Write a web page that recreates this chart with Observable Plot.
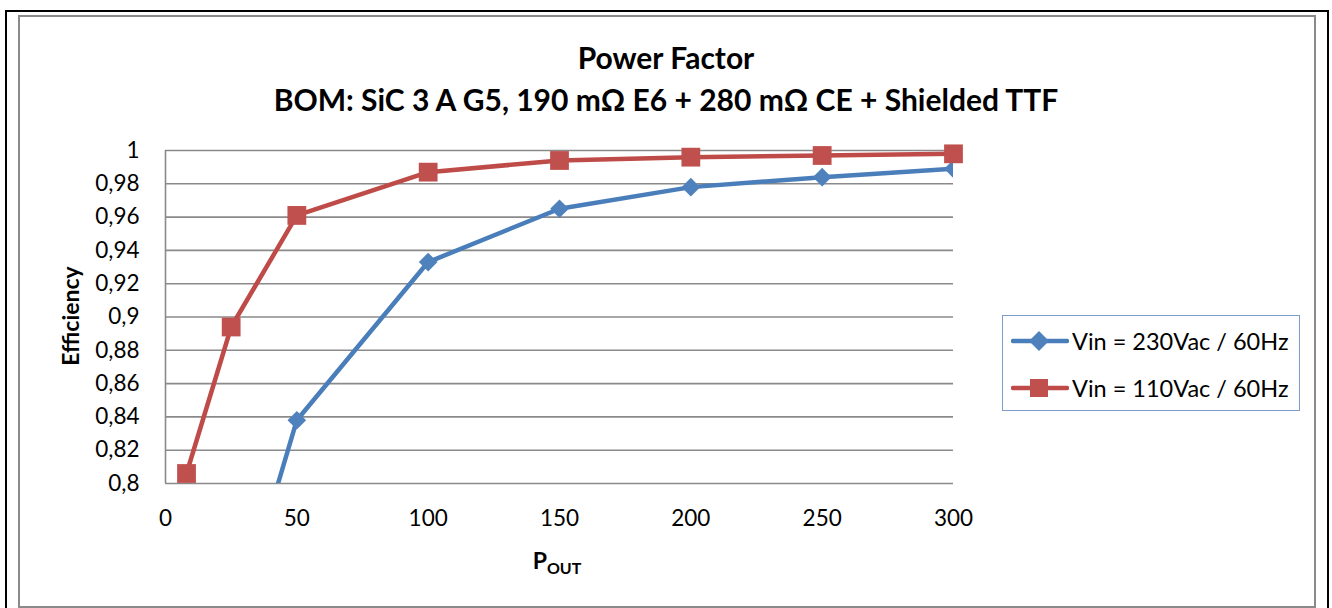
<!DOCTYPE html>
<html><head><meta charset="utf-8">
<script src="https://cdn.jsdelivr.net/npm/d3@7"></script>
<script src="https://cdn.jsdelivr.net/npm/@observablehq/plot@0.6"></script>
<style>
body{margin:0;background:#fff;}
#wrap{position:relative;width:1332px;height:608px;overflow:hidden;font-family:Lato,"Open Sans",sans-serif;color:#000;}
#chart{position:absolute;left:0;top:0;}
.box{position:absolute;pointer-events:none;box-sizing:border-box;}
.ttl{position:absolute;left:0;width:1332px;text-align:center;font-weight:bold;font-size:30px;line-height:1;}
#ylab{position:absolute;left:70px;top:316px;transform:translate(-50%,-50%) rotate(-90deg);font-weight:bold;font-size:23px;white-space:nowrap;}
#xlab{position:absolute;left:557px;top:561px;transform:translate(-50%,-50%);font-weight:bold;font-size:23px;white-space:nowrap;}
#xlab sub{font-size:16px;vertical-align:-5px;}
#legend{position:absolute;left:1002px;top:315px;width:298px;height:96px;border:1.5px solid #7E9BC9;box-sizing:border-box;background:#fff;}
.row{position:absolute;left:8px;height:30px;display:flex;align-items:center;font-size:23.5px;white-space:nowrap;}
.row svg{margin-right:3px;}
</style></head><body>
<div id="wrap">
<div id="chart"></div>
<div class="box" style="left:5px;top:10px;width:1324px;height:620px;border:2px solid #000;"></div>
<div class="box" style="left:18px;top:15px;width:1298px;height:593px;border:2px solid #8a8a8a;"></div>
<div class="ttl" id="t1" style="top:42px;"></div>
<div class="ttl" id="t2" style="top:84px;"></div>
<div id="ylab"></div>
<div id="xlab"></div>
<div id="legend"></div>
</div>
<script>
// ---- data ----
const titleLine1 = "Power Factor";
const titleLine2 = "BOM: SiC 3 A G5, 190 mΩ E6 + 280 mΩ CE + Shielded TTF";
const yTitle = "Efficiency";
const seriesNames = ["Vin = 230Vac / 60Hz", "Vin = 110Vac / 60Hz"];
const pout230 = [25, 50, 100, 150, 200, 250, 300];
const pf230   = [0.705, 0.838, 0.933, 0.965, 0.978, 0.984, 0.989];
const pout110 = [8, 25, 50, 100, 150, 200, 250, 300];
const pf110   = [0.806, 0.894, 0.961, 0.987, 0.994, 0.996, 0.997, 0.998];
const xTicks = [0, 50, 100, 150, 200, 250, 300];
const yTicks = [0.8, 0.82, 0.84, 0.86, 0.88, 0.9, 0.92, 0.94, 0.96, 0.98, 1];

const blueLine = "#4A7EBB", blueFill = "#4F81BD";
const redLine = "#BE4B48", redFill = "#C0504D";

document.getElementById("t1").textContent = titleLine1;
document.getElementById("t2").textContent = titleLine2;
document.getElementById("ylab").textContent = yTitle;
document.getElementById("xlab").innerHTML = "P<sub>OUT</sub>";

const d230 = pout230.map((x, i) => ({x, y: pf230[i]}));
const d110 = pout110.map((x, i) => ({x, y: pf110[i]}));
const fmt = d => String(+d.toFixed(2)).replace(".", ",");

const W = 1332, H = 608;
const plot = Plot.plot({
  width: W, height: H,
  marginLeft: 165, marginRight: W - 953, marginTop: 150, marginBottom: H - 483,
  style: {background: "transparent", fontFamily: "Lato, 'Open Sans', sans-serif", color: "#000"},
  x: {domain: [0, 300], label: null},
  y: {domain: [0.8, 1], label: null},
  marks: [
    Plot.gridY(yTicks, {stroke: "#8a8a8a", strokeOpacity: 1, strokeWidth: 1.6}),
    Plot.ruleX([0], {stroke: "#8a8a8a", strokeWidth: 1.6}),
    Plot.axisY(yTicks, {tickSize: 0, tickPadding: 26, tickFormat: fmt, fontSize: 22.5, label: null}),
    Plot.axisX(xTicks, {tickSize: 0, tickPadding: 27, fontSize: 22.5, label: null}),
    Plot.line(d230, {x: "x", y: "y", stroke: blueLine, strokeWidth: 4.5, clip: true}),
    Plot.line(d110, {x: "x", y: "y", stroke: redLine, strokeWidth: 4.5, clip: true}),
    Plot.dot(d230, {x: "x", y: "y", symbol: "diamond2", r: 8.4, fill: blueFill, clip: true}),
    Plot.dot(d110, {x: "x", y: "y", symbol: "square", r: 10.6, fill: redFill})
  ]
});
document.getElementById("chart").appendChild(plot);

// legend
const leg = document.getElementById("legend");
const items = [
  {name: seriesNames[0], line: blueLine, fill: blueFill, shape: "diamond"},
  {name: seriesNames[1], line: redLine, fill: redFill, shape: "square"}
];
items.forEach((it, i) => {
  const row = document.createElement("div");
  row.className = "row";
  row.style.top = (i === 0 ? 10 : 57) + "px";
  const marker = it.shape === "diamond"
    ? `<path d="M28,4 L38,14 L28,24 L18,14 Z" fill="${it.fill}"/>`
    : `<rect x="19" y="5" width="18" height="18" fill="${it.fill}"/>`;
  row.innerHTML = `<svg width="58" height="28"><line x1="2" y1="14" x2="56" y2="14" stroke="${it.line}" stroke-width="4.5" stroke-linecap="round"/>${marker}</svg><span>${it.name}</span>`;
  leg.appendChild(row);
});
</script>
</body></html>
